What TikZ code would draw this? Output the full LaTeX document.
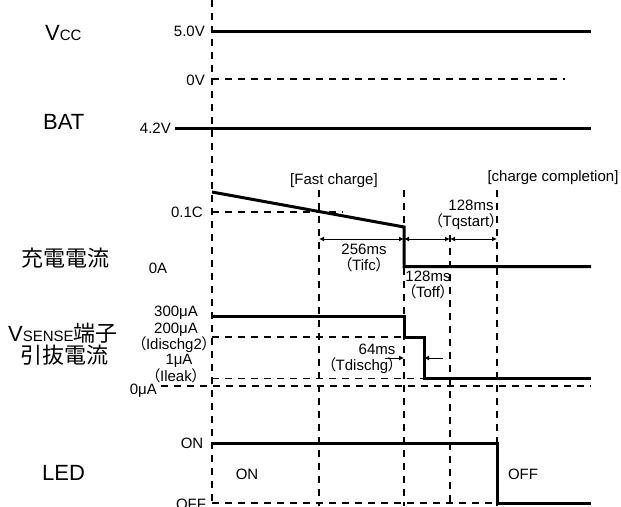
\documentclass[tikz,border=0pt]{standalone}
\usepackage{fontspec}
\setmainfont{Liberation Sans}
\newfontfamily\cjk[RawFeature=+palt]{Noto Sans CJK JP}
\usepackage{tikz}
\usetikzlibrary{arrows.meta}
\newcommand{\lpar}{{\cjk （}}
\newcommand{\rpar}{{\cjk ）}}
\newcommand{\smallsize}{\fontsize{15}{17}\selectfont}
\tikzset{
  signal/.style={line width=3pt},
  grid line/.style={line width=1.2pt, dash pattern=on 7pt off 6pt},
  level/.style={font=\smallsize, inner sep=0pt, align=center},
  name label/.style={font=\fontsize{22}{24}\selectfont, inner sep=0pt, anchor=west},
  span/.style={line width=1pt, arrows={Latex[length=5pt,width=5pt]-Latex[length=5pt,width=5pt]}},
  half span/.style={line width=1pt, arrows={-Latex[length=5pt,width=5pt]}},
}

\begin{document}
\begin{tikzpicture}[x=1pt,y=-1pt]
    \useasboundingbox (0,0) rectangle (621,506);
    % Time marks
    \draw[grid line] (212,0) -- (212,506);
    \foreach \x in {319,404,497} \draw[grid line] (\x,190) -- (\x,506);
    \draw[grid line] (450,235) -- (450,506);
    % Vcc and BAT
    \draw[signal] (212,31) -- (591,31);
    \draw[grid line] (212,79) -- (565,79);
    \draw[signal] (175,128) -- (591,128);
    % Charge current
    \draw[grid line] (212,212) -- (343,212);
    \draw[signal] (212,192) -- (404,227) -- (404,266.5) -- (591,266.5);
    % VSENSE current
    \draw[grid line] (212,337) -- (404,337);
    \draw[grid line] (212,378.5) -- (424,378.5);
    \draw[grid line] (161,386) -- (591,386);
    \draw[signal] (212,316) -- (404,316) -- (404,337) -- (424,337) -- (424,378.5) -- (591,378.5);
    % LED
    \draw[grid line] (212,503) -- (497,503);
    \draw[signal] (212,443) -- (497,443) -- (497,503) -- (591,503);

    % Signal names
    \node[name label] (vcc) at (45,33) {V{\smallsize CC}};
    \node[name label] (bat) at (43,122) {BAT};
    \node[name label] (ichg) at (21,258) {\cjk 充電電流};
    \node[name label] (vsense) at (8,333) {V{\smallsize SENSE}{\cjk 端子}};
    \node[name label] (vsense2) at (20,355) {\cjk 引抜電流};
    \node[name label] (led) at (42,473) {LED};

    % Levels
    \node[level, anchor=east] (v50) at (205,31) {5.0V};
    \node[level, anchor=east] (v0) at (205,80) {0V};
    \node[level, anchor=east] (v42) at (171,128) {4.2V};
    \node[level, anchor=east] (c01) at (203,212) {0.1C};
    \node[level] (a0) at (158,268) {0A};
    \node[level] (i300) at (176,313) {300μA};
    \node[level] (i200) at (176,330) {200μA};
    \node[level] (idis) at (174,345) {\lpar Idischg2\rpar};
    \node[level] (i1) at (179,361) {1μA};
    \node[level] (ileak) at (176,376) {\lpar Ileak\rpar};
    \node[level, anchor=east] (i0) at (157,391) {0μA};
    \node[level] (on) at (192,443) {ON};
    \node[level] (off) at (191,504) {OFF};
    \node[level] (ledon) at (247,474) {ON};
    \node[level] (ledoff) at (523,474) {OFF};

    % Phases
    \node[level] (fast) at (334,181) {[Fast charge]};
    \node[level] (done) at (553,178) {[charge completion]};

    % Timings
    \coordinate (fc) at (319,239);
    \coordinate (ch) at (404,239);
    \coordinate (qs) at (450,239);
    \coordinate (cc) at (497,239);
    \draw[span] (fc) -- (ch);
    \draw[span] (ch) -- (qs);
    \draw[span] (qs) -- (cc);
    \node[level] (tifc) at (364,258) {256ms\\[-1pt]\lpar Tifc\rpar};
    \node[level] (toff) at (428,285) {128ms\\[-1pt]\lpar Toff\rpar};
    \node[level] (tqs) at (466,215) {\hspace*{10pt}128ms\\[-1pt]\lpar Tqstart\rpar};
    \coordinate (d1) at (385,358);
    \coordinate (d2) at (404,358);
    \coordinate (d3) at (443,358);
    \coordinate (d4) at (424,358);
    \draw[half span] (d1) -- (d2);
    \draw[half span] (d3) -- (d4);
    \node[level] (tdis) at (362,359) {\hspace*{30pt}64ms\\[-1pt]\lpar Tdischg\rpar};
\end{tikzpicture}
\end{document}
